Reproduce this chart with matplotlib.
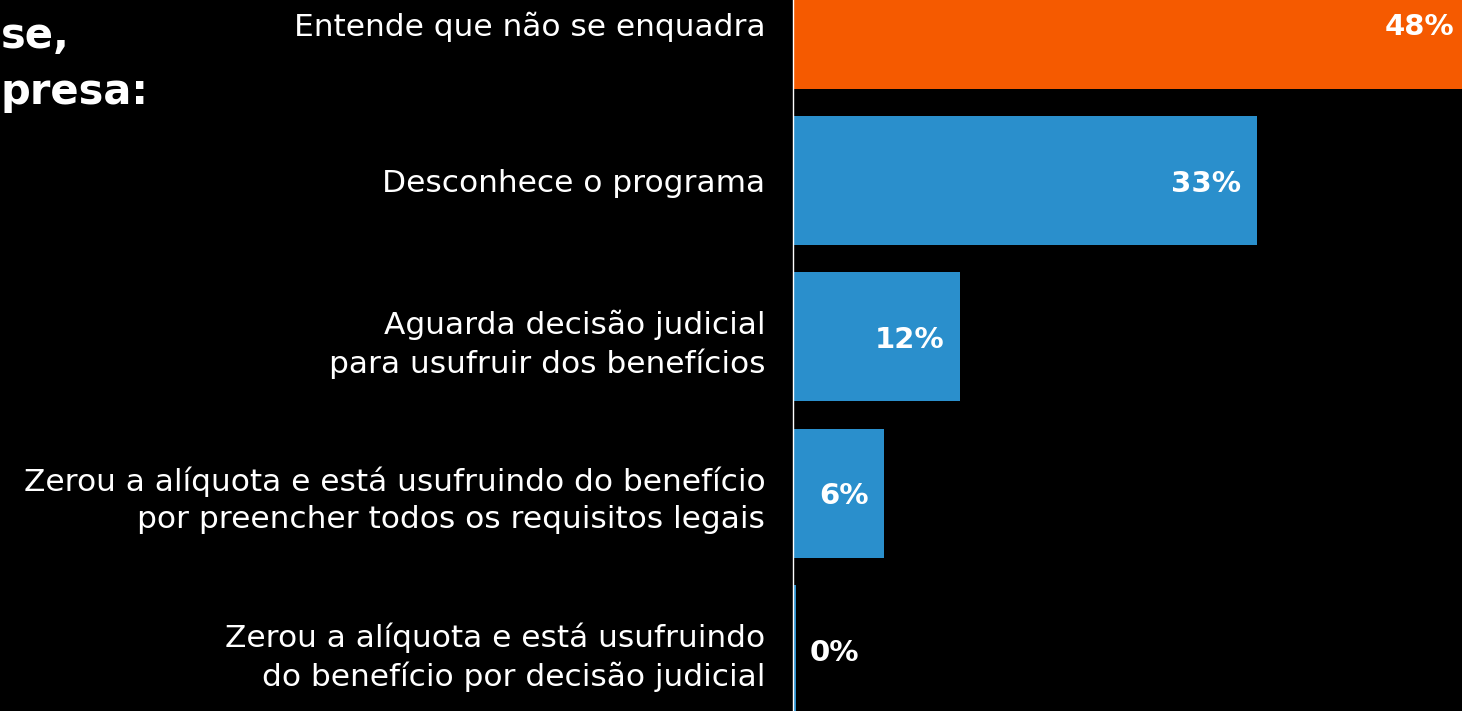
import matplotlib
matplotlib.use('Agg')
import matplotlib.pyplot as plt

# dados
categorias = [
    'Entende que não se enquadra',
    'Desconhece o programa',
    'Aguarda decisão judicial\npara usufruir dos benefícios',
    'Zerou a alíquota e está usufruindo do benefício\npor preencher todos os requisitos legais',
    'Zerou a alíquota e está usufruindo\ndo benefício por decisão judicial',
]
valores = [48.2, 33.0, 11.9, 6.5, 0.2]
rotulos = ['48%', '33%', '12%', '6%', '0%']
cores = ['#F55A00', '#2A8FCC', '#2A8FCC', '#2A8FCC', '#2A8FCC']

plt.rcParams['font.family'] = ['DejaVu Sans']

W, H = 1462, 711
fig = plt.figure(figsize=(W / 100, H / 100), dpi=100, facecolor='black')
ax = fig.add_axes([793 / W, 0, (W - 793) / W, 1], facecolor='black')

px = 14.06  # pixels por ponto percentual
y = list(range(len(categorias)))
ax.barh(y, valores, height=0.825, color=cores)

ax.set_xlim(0, (W - 793) / px)
ax.set_ylim((H - 24) / 156.4, -24 / 156.4)

for i, (v, r) in enumerate(zip(valores, rotulos)):
    if v > 3:
        ax.text(v - 16 / px, i + 0.02, r, ha='right', va='center', color='white',
                fontsize=21, fontweight='bold')
    else:
        ax.text(v + 14 / px, i + 0.02, r, ha='left', va='center', color='white',
                fontsize=21, fontweight='bold')

ax.set_yticks(y)
ax.set_yticklabels(categorias, fontsize=22.5, color='white', linespacing=1.35)
ax.tick_params(axis='y', length=0, pad=20)
ax.set_xticks([])
for s in ['top', 'right', 'bottom']:
    ax.spines[s].set_visible(False)
ax.spines['left'].set_color('white')
ax.spines['left'].set_linewidth(1)

# título (parte visível)
fig.text(1 / W, 1 - 36 / H, 'se,', color='white', fontsize=30, fontweight='bold',
         va='center', ha='left')
fig.text(1 / W, 1 - 92 / H, 'presa:', color='white', fontsize=30, fontweight='bold',
         va='center', ha='left')

fig.savefig('out.png', dpi=100, facecolor='black')
